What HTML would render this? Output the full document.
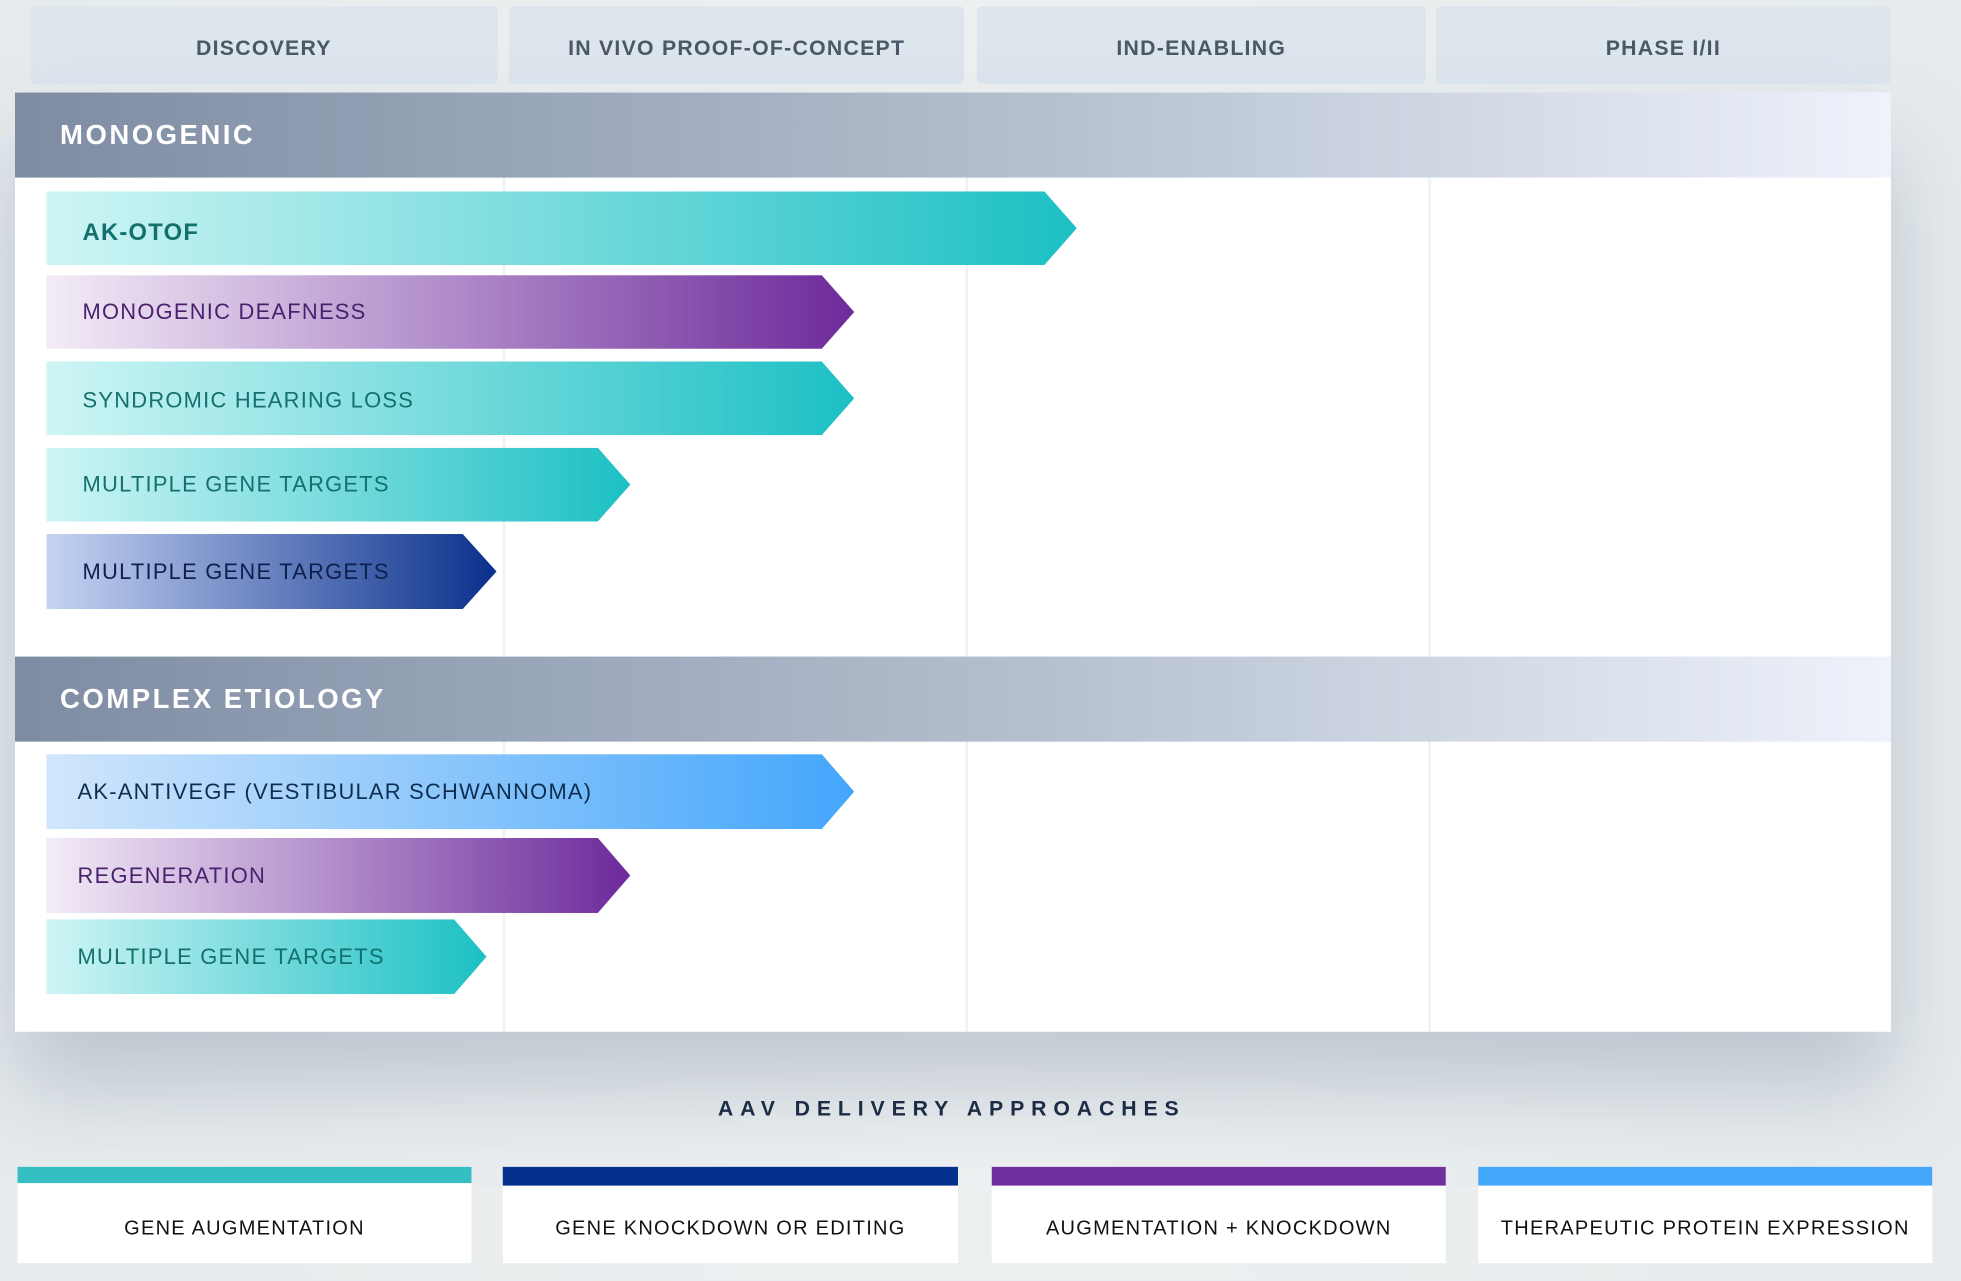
<!DOCTYPE html>
<html><head><meta charset="utf-8"><style>
html,body{margin:0;padding:0;width:1961px;height:1281px;overflow:hidden;background:#e7ecee;font-family:"Liberation Sans",sans-serif}
#w{position:absolute;left:0;top:0;width:1568px;height:1024px;transform:scale(1.25064);transform-origin:0 0;background:linear-gradient(90deg,#e6ebed,#edf0f1 50%,#e6ebed)}
.h{position:absolute;top:5px;height:62px;background:#dde5ed;border-radius:4px;color:#4b5866;font-size:17px;font-weight:bold;letter-spacing:1px;display:flex;align-items:center;justify-content:center;padding-top:5px;box-sizing:border-box}
#panel{position:absolute;left:12px;top:74px;width:1500px;height:751px;background:#fff;box-shadow:0 45px 70px rgba(110,125,150,0.35)}
.band{position:absolute;left:12px;width:1500px;height:68px;background:linear-gradient(90deg,#7e8ca3,#b5c0cf 55%,#eef2fb);color:#fff;font-size:22px;font-weight:bold;letter-spacing:2px;display:flex;align-items:center;box-sizing:border-box;padding-left:36px}
.vl{position:absolute;width:2px;background:#eef1f6}
.bar{position:absolute;left:37px;height:59px;display:flex;align-items:center;font-size:17.5px;letter-spacing:1px;box-sizing:border-box;padding-left:29px}
.t{background:linear-gradient(90deg,#cff5f5,#1cc0c4);color:#13706f}
.p{background:linear-gradient(90deg,#f3ecf7,#6d2a9b);color:#4a1f6c}
.b{background:linear-gradient(90deg,#c6d4f3,#0a308c);color:#0e1f4d}
.l{background:linear-gradient(90deg,#d1e6fb,#44a6fb);color:#0f2d50}
.lg{position:absolute;top:933px;height:77px;background:#fff;font-size:16px;letter-spacing:1px;color:#111;display:flex;align-items:center;justify-content:center;padding-top:22px;box-sizing:border-box}
.lg i{position:absolute;left:0;top:0;right:0;height:14px}
</style></head><body><div id="w">
<div class="h" style="left:24px;width:374px">DISCOVERY</div>
<div class="h" style="left:407px;width:364px">IN VIVO PROOF-OF-CONCEPT</div>
<div class="h" style="left:781px;width:359px">IND-ENABLING</div>
<div class="h" style="left:1148px;width:364px">PHASE I/II</div>
<div id="panel"></div>
<div class="vl" style="left:402px;top:142px;height:383px"></div>
<div class="vl" style="left:772px;top:142px;height:383px"></div>
<div class="vl" style="left:1142px;top:142px;height:383px"></div>
<div class="vl" style="left:402px;top:593px;height:232px"></div>
<div class="vl" style="left:772px;top:593px;height:232px"></div>
<div class="vl" style="left:1142px;top:593px;height:232px"></div>
<div class="band" style="top:74px">MONOGENIC</div>
<div class="band" style="top:525px">COMPLEX ETIOLOGY</div>
<div class="bar t" style="top:153px;width:824px;clip-path:polygon(0 0,798px 0,100% 50%,798px 100%,0 100%);font-weight:bold;font-size:19px;padding-top:9px">AK-OTOF</div>
<div class="bar p" style="top:220px;width:646px;clip-path:polygon(0 0,620px 0,100% 50%,620px 100%,0 100%)">MONOGENIC DEAFNESS</div>
<div class="bar t" style="top:289px;width:646px;clip-path:polygon(0 0,620px 0,100% 50%,620px 100%,0 100%);padding-top:4px">SYNDROMIC HEARING LOSS</div>
<div class="bar t" style="top:358px;width:467px;clip-path:polygon(0 0,441px 0,100% 50%,441px 100%,0 100%)">MULTIPLE GENE TARGETS</div>
<div class="bar b" style="top:427px;width:360px;height:60px;clip-path:polygon(0 0,333px 0,100% 50%,333px 100%,0 100%)">MULTIPLE GENE TARGETS</div>
<div class="bar l" style="top:603px;width:646px;height:60px;padding-left:25px;clip-path:polygon(0 0,620px 0,100% 50%,620px 100%,0 100%)">AK-ANTIVEGF (VESTIBULAR SCHWANNOMA)</div>
<div class="bar p" style="top:670px;width:467px;height:60px;padding-left:25px;clip-path:polygon(0 0,441px 0,100% 50%,441px 100%,0 100%)">REGENERATION</div>
<div class="bar t" style="top:735px;width:352px;height:60px;padding-left:25px;clip-path:polygon(0 0,326px 0,100% 50%,326px 100%,0 100%)">MULTIPLE GENE TARGETS</div>
<div style="position:absolute;left:0;width:1522px;top:877px;text-align:center;font-size:17px;font-weight:bold;letter-spacing:5.5px;color:#1b2c44">AAV DELIVERY APPROACHES</div>
<div class="lg" style="left:14px;width:363px"><i style="background:#36bfc3;height:13px"></i>GENE AUGMENTATION</div>
<div class="lg" style="left:402px;width:364px"><i style="background:#04318e;height:15px"></i>GENE KNOCKDOWN OR EDITING</div>
<div class="lg" style="left:793px;width:363px"><i style="background:#70309d;height:15px"></i>AUGMENTATION + KNOCKDOWN</div>
<div class="lg" style="left:1182px;width:363px"><i style="background:#45a7fc;height:15px"></i>THERAPEUTIC PROTEIN EXPRESSION</div>
</div></body></html>
